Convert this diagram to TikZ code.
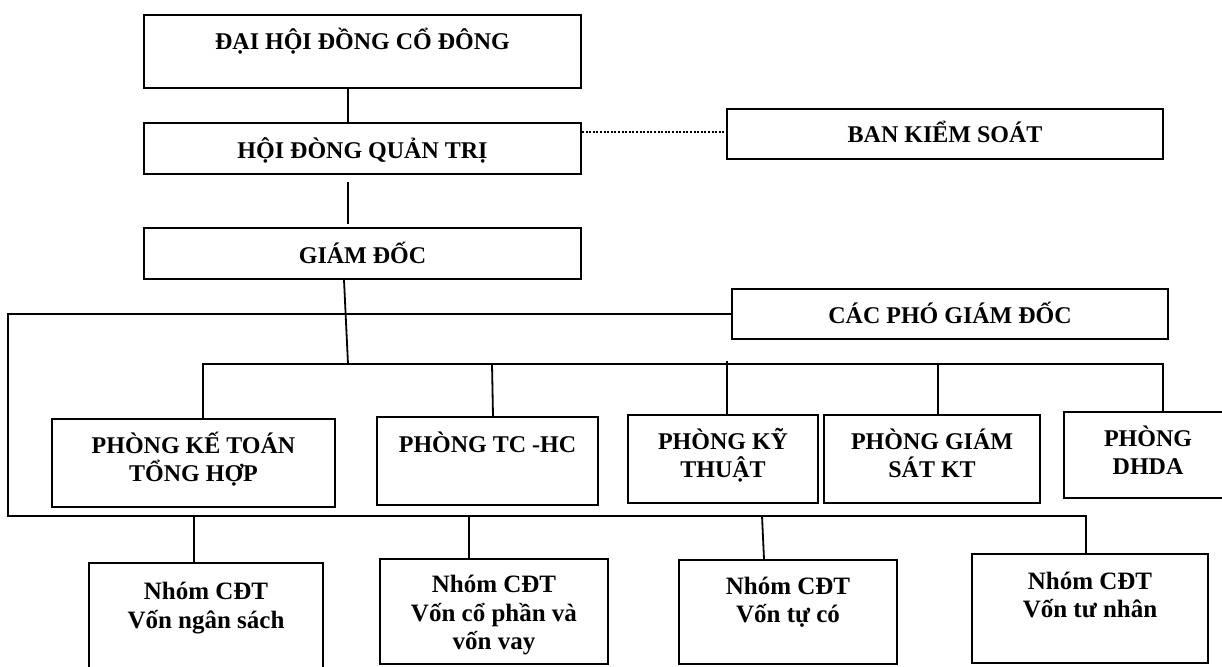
\documentclass[tikz,border=0pt]{standalone}
\usepackage{fontspec}
\setmainfont{Liberation Serif}
\tikzset{
  box/.style={draw=black, line width=2.1pt, rectangle, inner sep=0pt},
  conn/.style={draw=black, line width=1.8pt},
  dotl/.style={draw=black, line width=1.8pt, dash pattern=on 2pt off 1.6pt},
  ttop/.style={anchor=base, align=center, inner sep=0pt, font=\fontsize{24}{28}\selectfont\bfseries},
  tlow/.style={anchor=base, align=center, inner sep=0pt, font=\fontsize{25}{28.5}\selectfont\bfseries}
}
\begin{document}
\begin{tikzpicture}[x=1pt,y=-1pt]
\useasboundingbox (0,0) rectangle (1222,666);
\clip (0,0) rectangle (1222,666);
% boxes
\node[box, minimum width=437pt, minimum height=73pt] (dh) at (362.5,51.5) {};
\node[box, minimum width=437pt, minimum height=51pt] (hd) at (362.5,148.5) {};
\node[box, minimum width=437pt, minimum height=51pt] (gd) at (362.5,253.5) {};
\node[box, minimum width=436pt, minimum height=50pt] (bks) at (945,134) {};
\node[box, minimum width=436pt, minimum height=50pt] (cp) at (950,314) {};
\node[box, minimum width=283pt, minimum height=88pt] (kt) at (193.5,463) {};
\node[box, minimum width=221pt, minimum height=88pt] (tc) at (487.5,461) {};
\node[box, minimum width=190pt, minimum height=88pt] (ky) at (723,459) {};
\node[box, minimum width=216pt, minimum height=88pt] (gs) at (932,459) {};
\node[box, minimum width=168pt, minimum height=86pt] (dhda) at (1148,455) {};
\node[box, minimum width=234pt, minimum height=105pt] (n1) at (206,615.5) {};
\node[box, minimum width=228pt, minimum height=105pt] (n2) at (494,611.5) {};
\node[box, minimum width=218pt, minimum height=104pt] (n3) at (788,612) {};
\node[box, minimum width=236pt, minimum height=109pt] (n4) at (1090,608.5) {};
% texts (base anchor = baseline of the last line)
\node[ttop] (dht) at (362.5,50) {ĐẠI HỘI ĐỒNG CỔ ĐÔNG};
\node[ttop] (hdt) at (362.5,158) {HỘI ĐÒNG QUẢN TRỊ};
\node[ttop] (gdt) at (362.5,263) {GIÁM ĐỐC};
\node[ttop] (bkst) at (945,142.5) {BAN KIỂM SOÁT};
\node[ttop] (cpt) at (950,323) {CÁC PHÓ GIÁM ĐỐC};
\node[ttop] (ktt) at (193.5,481) {PHÒNG KẾ TOÁN\\TỔNG HỢP};
\node[ttop] (tct) at (487.5,452) {PHÒNG TC -HC};
\node[ttop] (kyt) at (723,477.5) {PHÒNG KỸ\\THUẬT};
\node[ttop] (gst) at (932,477) {PHÒNG GIÁM\\SÁT KT};
\node[ttop] (dhdat) at (1148,474) {PHÒNG\\DHDA};
\node[tlow] (n1t) at (206,628) {Nhóm CĐT\\Vốn ngân sách};
\node[tlow] (n2t) at (494,649.5) {Nhóm CĐT\\Vốn cổ phần và\\vốn vay};
\node[tlow] (n3t) at (788,622.5) {Nhóm CĐT\\Vốn tự có};
\node[tlow] (n4t) at (1090,617.5) {Nhóm CĐT\\Vốn tư nhân};
% bus coordinates
\coordinate (mb) at (348,364);
\coordinate (mbL) at (203,364);
\coordinate (mbR) at (1163,364);
\coordinate (tcT) at (492,364);
\coordinate (kyT) at (727,361);
\coordinate (gsT) at (938,364);
\coordinate (tbL) at (8,314);
\coordinate (bbL) at (8,516);
\coordinate (bbR) at (1086,516);
\coordinate (n1T) at (194,516);
\coordinate (n2T) at (469,516);
\coordinate (n3T) at (762,516);
% connectors
\draw[conn] ([xshift=-14.5pt]dh.south) -- ([xshift=-14.5pt]hd.north);
\draw[conn] ([xshift=-14.5pt,yshift=-7pt]hd.south) -- ([xshift=-14.5pt,yshift=3pt]gd.north);
\draw[dotl] ([yshift=16.5pt]hd.east) -- ([yshift=2pt]bks.west);
\draw[conn] ([xshift=-18.5pt]gd.south) -- (mb);
\draw[conn] ([xshift=9.5pt]kt.north) -- (mbL) -- (mbR) -- ([xshift=15pt]dhda.north);
\draw[conn] (tcT) -- ([xshift=5.5pt]tc.north);
\draw[conn] (kyT) -- ([xshift=4pt]ky.north);
\draw[conn] (gsT) -- ([xshift=6pt]gs.north);
\draw[conn] (cp.west) -- (cp.west -| tbL) -- (bbL) -- (bbR) -- ([xshift=-4pt]n4.north);
\draw[conn] (n1T) -- ([xshift=-12pt]n1.north);
\draw[conn] (n2T) -- ([xshift=-25pt]n2.north);
\draw[conn] (n3T) -- ([xshift=-24pt]n3.north);
\end{tikzpicture}
\end{document}
